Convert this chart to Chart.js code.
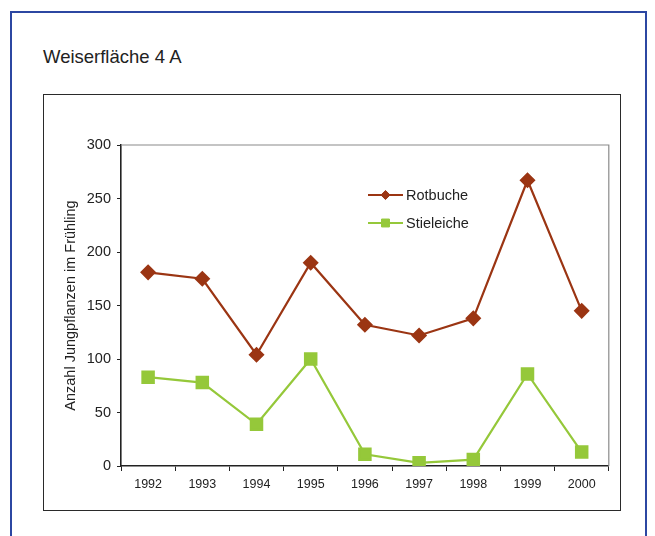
<!DOCTYPE html>
<html>
<head>
<meta charset="utf-8">
<script src="https://cdn.jsdelivr.net/npm/chart.js@4/dist/chart.umd.min.js"></script>
<style>
  html, body { margin: 0; padding: 0; background: #fff; }
  body { width: 655px; height: 536px; position: relative; overflow: hidden; font-family: "Liberation Sans", Arial, sans-serif; }
  .panel { position: absolute; left: 10px; top: 11px; width: 637px; height: 560px; border: 2.5px solid #2c47a2; box-sizing: border-box; }
  .title { position: absolute; left: 43px; top: 45px; font-size: 18.5px; color: #222; line-height: 24px; }
  .frame { position: absolute; left: 43px; top: 94px; width: 578px; height: 417px; border: 1.5px solid #2a2a2a; box-sizing: border-box; background: #fff; }
  .frame canvas { position: absolute; left: 0; top: 0; }
</style>
</head>
<body>
<div class="panel"></div>
<div class="title">Weiserfläche 4 A</div>
<div class="frame"><canvas id="c" width="575" height="414"></canvas></div>
<script>
// Seedlings counted each spring on plot 4 A
const years = ['1992', '1993', '1994', '1995', '1996', '1997', '1998', '1999', '2000'];
const rotbuche = [181, 175, 104, 190, 132, 122, 138, 267, 145];
const stieleiche = [83, 78, 39, 100, 11, 3, 6, 86, 13];
const yTicks = [0, 50, 100, 150, 200, 250, 300];

const RED = '#9b3513';
const GREEN = '#95c83a';
const FONT = '"Liberation Sans", Arial, sans-serif';

// Thin grey outline on the top and right edges of the plot area
const plotFrame = {
  id: 'plotFrame',
  beforeDatasetsDraw(chart) {
    const { ctx, chartArea: a } = chart;
    ctx.save();
    ctx.strokeStyle = '#8a8a8a';
    ctx.lineWidth = 1.2;
    ctx.beginPath();
    ctx.moveTo(a.left, a.top);
    ctx.lineTo(a.right, a.top);
    ctx.lineTo(a.right, a.bottom);
    ctx.stroke();
    ctx.restore();
  }
};

// Legend drawn inside the plot area, next to the peak
const innerLegend = {
  id: 'innerLegend',
  afterDraw(chart) {
    const { ctx } = chart;
    const x0 = 324, x1 = 359, rowY = [100, 128];
    chart.data.datasets.forEach((ds, i) => {
      const y = rowY[i];
      ctx.save();
      ctx.strokeStyle = ds.borderColor;
      ctx.lineWidth = ds.borderWidth;
      ctx.beginPath();
      ctx.moveTo(x0, y);
      ctx.lineTo(x1, y);
      ctx.stroke();
      ctx.fillStyle = ds.pointBackgroundColor;
      ctx.strokeStyle = ds.pointBorderColor;
      ctx.lineWidth = 1;
      Chart.helpers.drawPoint(ctx, {
        pointStyle: ds.pointStyle,
        radius: ds.pointRadius * 0.7,
        borderWidth: 1
      }, (x0 + x1) / 2, y);
      ctx.fillStyle = '#222';
      ctx.font = '14.5px ' + FONT;
      ctx.textBaseline = 'middle';
      ctx.textAlign = 'left';
      ctx.fillText(ds.label, x1 + 3, y + 0.5);
      ctx.restore();
    });
  }
};

new Chart(document.getElementById('c'), {
  type: 'line',
  data: {
    labels: years,
    datasets: [
      {
        label: 'Rotbuche',
        data: rotbuche,
        borderColor: RED,
        backgroundColor: RED,
        pointBackgroundColor: RED,
        pointBorderColor: RED,
        borderWidth: 2.2,
        pointStyle: 'rectRot',
        pointRadius: 6.5,
        tension: 0
      },
      {
        label: 'Stieleiche',
        data: stieleiche,
        borderColor: GREEN,
        backgroundColor: GREEN,
        pointBackgroundColor: GREEN,
        pointBorderColor: GREEN,
        borderWidth: 2.2,
        pointStyle: 'rect',
        pointRadius: 8,
        tension: 0
      }
    ]
  },
  options: {
    responsive: false,
    animation: false,
    events: [],
    layout: { padding: { top: 50, right: 10, left: 0, bottom: 0 } },
    plugins: {
      legend: { display: false },
      tooltip: { enabled: false }
    },
    scales: {
      x: {
        offset: true,
        grid: { offset: true, drawOnChartArea: false, drawTicks: true, tickLength: 5, color: '#222', lineWidth: 1 },
        border: { color: '#222', width: 1.6 },
        ticks: { color: '#222', font: { family: FONT, size: 12.5 }, padding: 6, maxRotation: 0 },
        afterFit(s) { s.height = 43; }
      },
      y: {
        min: 0,
        max: 300,
        afterBuildTicks(s) { s.ticks = yTicks.map(v => ({ value: v })); },
        grid: { drawOnChartArea: false, drawTicks: true, tickLength: 4, color: '#222', lineWidth: 1 },
        border: { color: '#222', width: 1.6 },
        ticks: { color: '#222', font: { family: FONT, size: 14.5 }, padding: 6 },
        title: {
          display: true,
          text: 'Anzahl Jungpflanzen im Frühling',
          color: '#222',
          font: { family: FONT, size: 14.5 },
          padding: { top: 18, bottom: 0 }
        },
        afterFit(s) { s.width = 77; }
      }
    }
  },
  plugins: [plotFrame, innerLegend]
});
</script>
</body>
</html>
